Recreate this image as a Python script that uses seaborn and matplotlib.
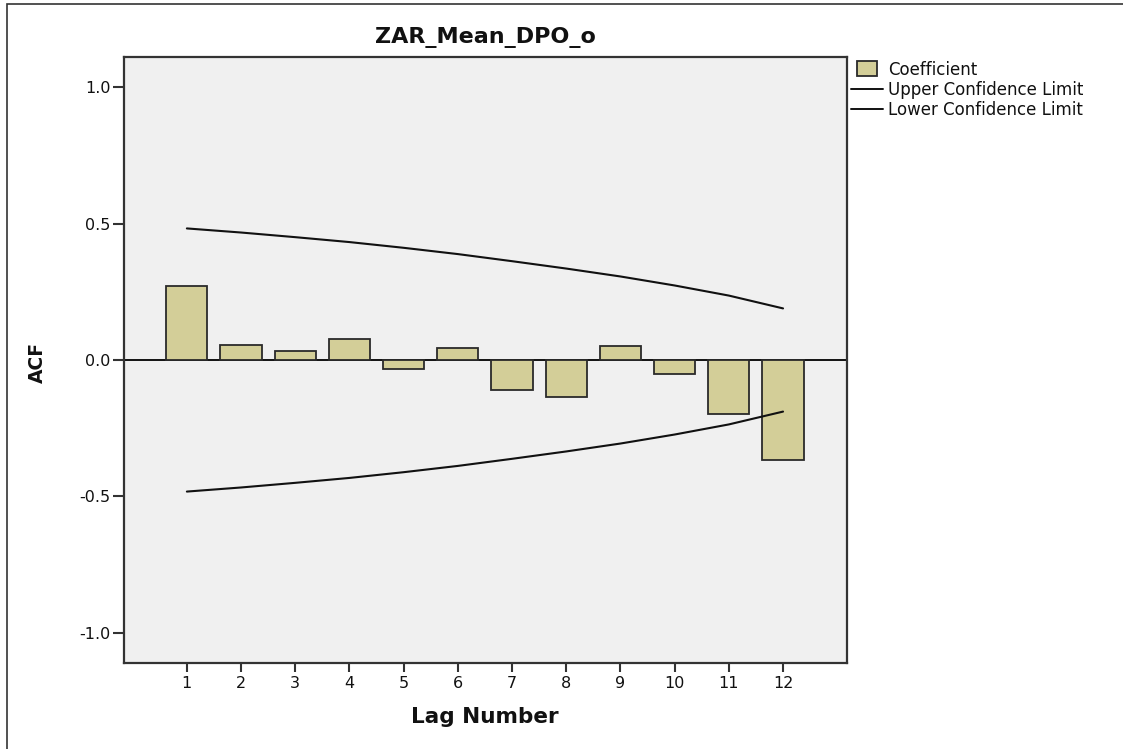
import matplotlib
matplotlib.use("Agg")
import matplotlib.pyplot as plt
from matplotlib.patches import Rectangle
from matplotlib.lines import Line2D
from matplotlib.legend_handler import HandlerPatch
import seaborn as sns
import pandas as pd

# ACF of ZAR_Mean_DPO_o by lag, with its confidence limits
lags = [1, 2, 3, 4, 5, 6, 7, 8, 9, 10, 11, 12]
coefficient = [0.271, 0.055, 0.034, 0.076, -0.032, 0.045,
               -0.111, -0.134, 0.050, -0.052, -0.199, -0.365]
upper_limit = [0.482, 0.467, 0.450, 0.432, 0.411, 0.388,
               0.362, 0.335, 0.306, 0.273, 0.236, 0.189]
lower_limit = [-0.482, -0.467, -0.450, -0.432, -0.411, -0.388,
               -0.362, -0.335, -0.306, -0.273, -0.236, -0.189]
y_ticks = [-1.0, -0.5, 0.0, 0.5, 1.0]

df = pd.DataFrame({"lag": lags, "acf": coefficient,
                   "upper": upper_limit, "lower": lower_limit})

sns.set_theme(style="white")
plt.rcParams["font.family"] = ["DejaVu Sans"]

BAR = "#d3ce98"
EDGE = "#2a2a2a"
INK = "#111111"
W, H = 1123, 749

fig = plt.figure(figsize=(W / 100, H / 100), dpi=100)
fig.patch.set_facecolor("white")
ax = fig.add_axes([124 / W, 1 - 663 / H, (847 - 124) / W, (663 - 57) / H])
ax.set_facecolor("#f0f0f0")

sns.barplot(data=df, x="lag", y="acf", native_scale=True, width=0.76,
            color=BAR, edgecolor=EDGE, linewidth=1.3, saturation=1,
            ax=ax, zorder=3)
ax.axhline(0, color=INK, lw=1.4, zorder=2)
sns.lineplot(data=df, x="lag", y="upper", color=INK, lw=1.5,
             ax=ax, zorder=4)
sns.lineplot(data=df, x="lag", y="lower", color=INK, lw=1.5,
             ax=ax, zorder=4)

ax.set_xlim(-0.16, 13.18)
ax.set_ylim(-1.11, 1.11)
ax.set_xticks(lags)
ax.set_xticklabels([str(v) for v in lags])
ax.set_yticks(y_ticks)
ax.set_yticklabels([f"{v:.1f}" for v in y_ticks])
ax.tick_params(axis="x", length=6.5, width=1.5, color="#333333",
               labelsize=11.5, pad=3, bottom=True, labelcolor=INK)
ax.tick_params(axis="y", length=8, width=1.5, color="#333333",
               labelsize=11.5, pad=1.5, left=True, labelcolor=INK)
for s in ax.spines.values():
    s.set_color("#333333")
    s.set_linewidth(1.6)
    s.set_visible(True)

ax.set_xlabel("Lag Number", fontsize=15.5, fontweight="bold", color=INK)
ax.set_ylabel("ACF", fontsize=13.5, fontweight="bold", color=INK)
ax.xaxis.set_label_coords((485 - 124) / (847 - 124), -(707 - 663) / (663 - 57))
ax.yaxis.set_label_coords(-(124 - 47) / (847 - 124), (663 - 362) / (663 - 57))
ax.set_title("ZAR_Mean_DPO_o", fontsize=16, fontweight="bold", pad=10,
             color=INK)


def narrow_patch(legend, orig_handle, xdescent, ydescent, width, height, fontsize):
    return Rectangle((-xdescent + width * 0.2, -ydescent - height * 0.12),
                     width * 0.62, height * 1.3)


handles = [
    Rectangle((0, 0), 1, 1, facecolor=BAR, edgecolor=EDGE, linewidth=1.3),
    Line2D([], [], color=INK, lw=1.4),
    Line2D([], [], color=INK, lw=1.4),
]
labels = ["Coefficient", "Upper Confidence Limit", "Lower Confidence Limit"]
fig.legend(handles, labels, loc="upper left",
           bbox_to_anchor=(851 / W, 1 - 61 / H), frameon=False,
           fontsize=12, handlelength=1.9, handletextpad=0.35,
           labelspacing=0.12, borderpad=0, borderaxespad=0,
           handler_map={Rectangle: HandlerPatch(patch_func=narrow_patch)},
           labelcolor=INK)

# outer frame of the chart
fig.add_artist(Rectangle((7 / W, -0.1), 1.2, 1.1 - 4 / H,
                         transform=fig.transFigure, fill=False,
                         edgecolor="#333333", lw=1.2))

fig.savefig("out.png", dpi=100)
